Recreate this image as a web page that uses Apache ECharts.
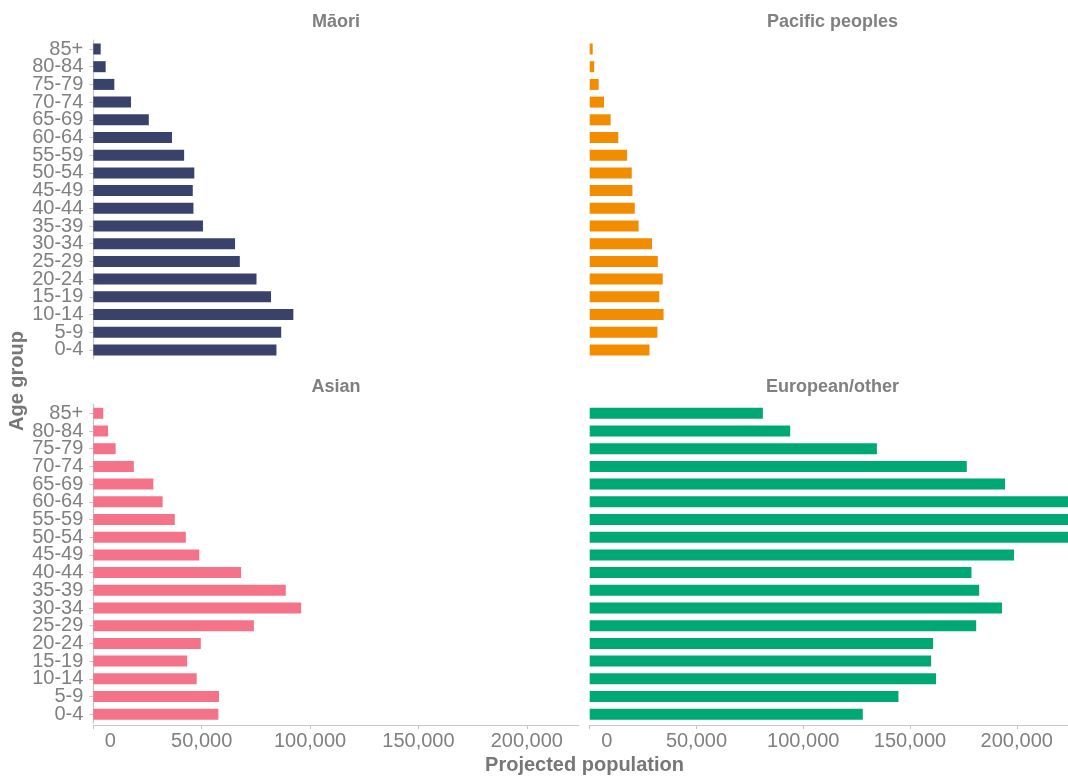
<!DOCTYPE html>
<html><head><meta charset="utf-8">
<script src="https://cdn.jsdelivr.net/npm/echarts@6/dist/echarts.min.js"></script>
<style>html,body{margin:0;padding:0;background:#fff}#c{width:1068px;height:776px}</style>
</head><body><div id="c"></div>
<script>
const ageGroups = ['0-4','5-9','10-14','15-19','20-24','25-29','30-34','35-39','40-44','45-49','50-54','55-59','60-64','65-69','70-74','75-79','80-84','85+'];
const maori    = [84500, 86700, 92300, 82000, 75300, 67600, 65400, 50600, 46200, 45900, 46600, 41900, 36300, 25600, 17400, 9700, 5700, 3400];
const pacific  = [28000, 31700, 34600, 32600, 34200, 31900, 29200, 22900, 21100, 20000, 19700, 17500, 13400, 9800, 6700, 4200, 2100, 1400];
const asian    = [57700, 58000, 47700, 43300, 49600, 74100, 95900, 88800, 68200, 48900, 42700, 37600, 32000, 27700, 18700, 10300, 6800, 4600];
const european = [127900, 144600, 162200, 159900, 160800, 181000, 193100, 182400, 178800, 198700, 228000, 238000, 232000, 194500, 176600, 134500, 93900, 81100];
const panelNames = ['Māori', 'Pacific peoples', 'Asian', 'European/other'];
const xTicks = [0, 50000, 100000, 150000, 200000];
const xMax = 224000;

const colors = ['#38426a', '#f28c00', '#f47388', '#00a874'];
const seriesData = [maori, pacific, asian, european];
const FONT = 'Liberation Sans';
const gray = '#808080';
const lineGray = '#c6c6c6';

const gridLeft = [93.3, 589.7];
const gridTop = [40.15, 404.45];
const gridW = 485.5, gridH = 318.6;

const grids = [], xAxes = [], yAxes = [], series = [], graphics = [];
for (let i = 0; i < 4; i++) {
  const col = i % 2, row = Math.floor(i / 2);
  grids.push({left: gridLeft[col], top: gridTop[row], width: gridW, height: gridH, containLabel: false});
  const showX = row === 1;
  xAxes.push({
    type: 'value', gridIndex: i, min: 0, max: xMax, interval: 50000, offset: 2,
    show: showX,
    splitLine: {show: false},
    axisLine: {show: showX, lineStyle: {color: lineGray, width: 1.2}},
    axisTick: {show: showX, length: 4, customValues: xTicks, lineStyle: {color: lineGray}},
    axisLabel: {
      show: showX, customValues: xTicks, margin: 6, fontSize: 20, color: gray, fontFamily: FONT,
      formatter: v => v === 0 ? '{z|0}' : v.toLocaleString('en-US'),
      rich: {z: {padding: [0, 0, 0, 34], fontSize: 20, color: gray, fontFamily: FONT}}
    }
  });
  const showY = col === 0;
  yAxes.push({
    type: 'category', gridIndex: i, data: ageGroups, show: showY,
    axisLine: {show: showY, lineStyle: {color: lineGray, width: 1.2}},
    axisTick: {show: showY, length: 4, alignWithLabel: true, lineStyle: {color: lineGray}},
    axisLabel: {show: showY, margin: 10, fontSize: 20, color: gray, fontFamily: FONT, interval: 0},
    splitLine: {show: false}
  });
  series.push({
    type: 'bar', xAxisIndex: i, yAxisIndex: i, data: seriesData[i], barWidth: 11,
    itemStyle: {color: colors[i]}, silent: true, clip: true
  });
  graphics.push({
    type: 'text', x: gridLeft[col] + gridW / 2, y: row === 0 ? 22 : 387,
    style: {text: panelNames[i], font: 'bold 18px "' + FONT + '"', fill: gray, textAlign: 'center', textVerticalAlign: 'middle'}
  });
}
graphics.push({
  type: 'text', x: 584.5, y: 765,
  style: {text: 'Projected population', font: 'bold 20px "' + FONT + '"', fill: '#777', textAlign: 'center', textVerticalAlign: 'middle'}
});
graphics.push({
  type: 'text', x: 17, y: 381, rotation: Math.PI / 2,
  style: {text: 'Age group', font: 'bold 20px "' + FONT + '"', fill: '#777', textAlign: 'center', textVerticalAlign: 'middle'}
});

const chart = echarts.init(document.getElementById('c'), null, {renderer: 'canvas'});
chart.setOption({
  animation: false,
  backgroundColor: '#fff',
  grid: grids, xAxis: xAxes, yAxis: yAxes, series: series, graphic: graphics
});
</script>
</body></html>
